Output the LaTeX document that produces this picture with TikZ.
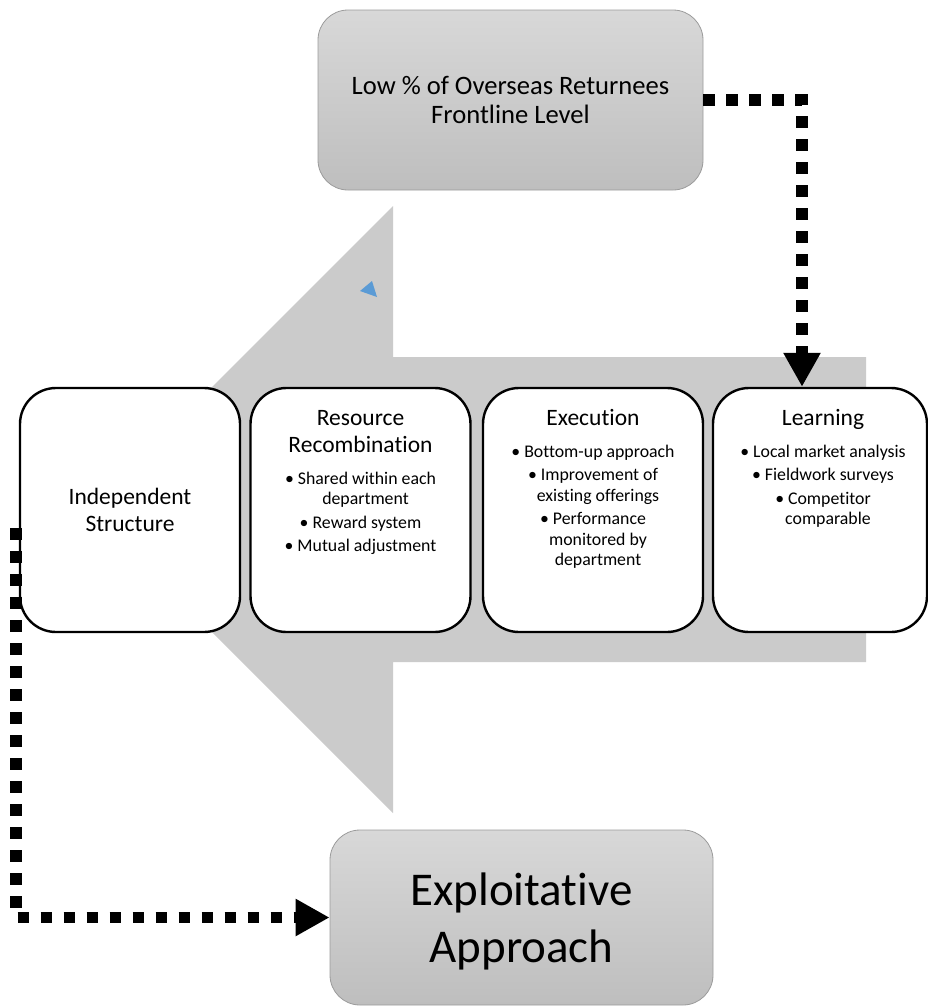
\documentclass[tikz,border=0pt]{standalone}
\usepackage{fontspec}
\setmainfont{Carlito}[Ligatures={TeX,NoCommon}]
\usetikzlibrary{arrows.meta}

\definecolor{arrowgray}{RGB}{203,203,203}
\definecolor{cardtop}{RGB}{216,216,216}
\definecolor{cardbot}{RGB}{190,190,190}
\definecolor{cardedge}{RGB}{155,155,155}
\definecolor{cueblue}{RGB}{91,155,213}

\newcommand{\titlefont}{\fontsize{23.5}{27}\selectfont}
\newcommand{\itemfont}{\fontsize{17.8}{20.5}\selectfont}
\newcommand{\bul}{\textbullet\hspace{4pt}}
\newcommand{\cont}{\hspace*{10pt}}
\newcommand{\firstline}{\rule{0pt}{20pt}}

\tikzset{
  cardbox/.style={draw=cardedge, line width=0.8pt, rounded corners=30pt,
    top color=cardtop, bottom color=cardbot, inner sep=0pt, align=center},
  stagebox/.style={draw=black, line width=2.4pt, fill=white, rounded corners=36pt,
    minimum width=220pt, minimum height=244pt, inner sep=0pt, align=center,
    font=\titlefont},
  stagetext/.style={anchor=north, yshift=-18pt, text width=215pt,
    align=flush center, inner sep=0pt, font=\itemfont},
  conn/.style={line width=11.5pt, dash pattern=on 11.5pt off 11.5pt,
    -{Triangle[length=34pt,width=35pt]}},
}

\begin{document}
\begin{tikzpicture}[x=1pt,y=-1pt]
\useasboundingbox (0,0) rectangle (927,1007);

% large left-pointing block arrow behind the stages
\fill[arrowgray] (866,357) -- (393,357) -- (393,206) -- (89.5,509.5)
  -- (393,813) -- (393,662) -- (866,662) -- cycle;
\fill[cueblue] (360,291) -- (372,281) -- (377,297) -- cycle;

% source and outcome boxes
\node[cardbox, minimum width=385pt, minimum height=180pt,
  font=\fontsize{26.6}{28.5}\selectfont] (top) at (510.5,100)
  {Low \% of Overseas Returnees\\Frontline Level};
\node[cardbox, minimum width=383pt, minimum height=175pt, text depth=0pt,
  font=\fontsize{47}{57}\selectfont] (exp) at (521.5,917.5)
  {Exploitative\\Approach};

% stages
\node[stagebox] (indep) at (130,510) {Independent\\Structure};
\node[stagebox] (recomb) at (360.5,510) {};
\node[stagebox] (exec) at (593,510) {};
\node[stagebox, minimum width=214pt] (learn) at (820,510) {};

\node[stagetext] (recomb-txt) at (recomb.north)
  {\firstline{\titlefont Resource\\[6.5pt]Recombination}\\[11.5pt]
   \bul Shared within each\\
   \cont department\\[3pt]
   \bul Reward system\\[3pt]
   \bul Mutual adjustment};
\node[stagetext] (exec-txt) at (exec.north)
  {\firstline{\titlefont Execution}\\[11.5pt]
   \bul Bottom-up approach\\[3pt]
   \bul Improvement of\\
   \cont existing offerings\\[3pt]
   \bul Performance\\
   \cont monitored by\\
   \cont department};
\node[stagetext, xshift=3pt] (learn-txt) at (learn.north)
  {\firstline{\titlefont Learning}\\[11.5pt]
   \bul Local market analysis\\[3pt]
   \bul Fieldwork surveys\\[3pt]
   \bul Competitor\\
   \cont comparable};

% dotted connectors
\coordinate (indep-out) at (16,528);
\draw[conn] (top.east) -| ([xshift=-18pt]learn.north);
\draw[conn] (indep-out) |- (exp.west);
\end{tikzpicture}
\end{document}
